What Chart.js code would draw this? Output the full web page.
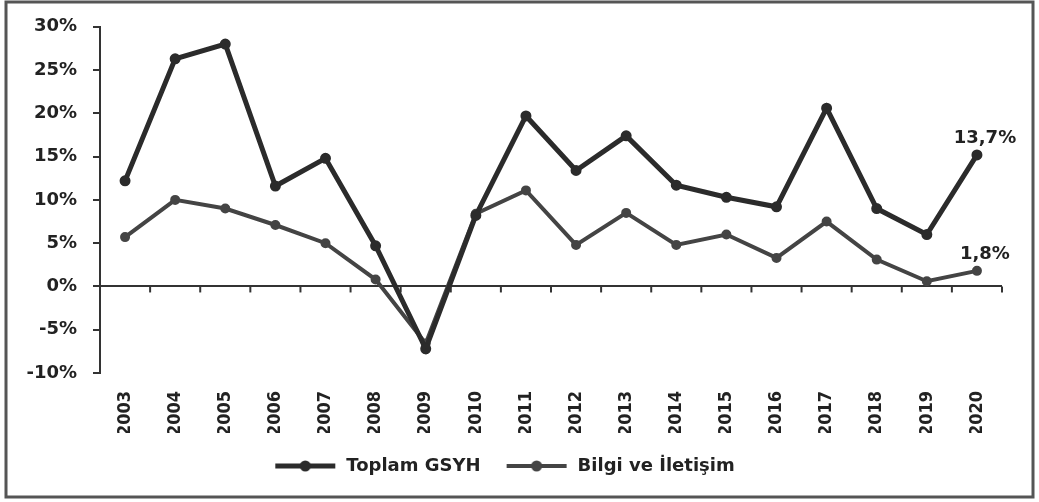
<!DOCTYPE html>
<html>
<head>
<meta charset="utf-8">
<style>
  html, body { margin: 0; padding: 0; background: #fff; }
  #wrap { width: 1039px; height: 502px; position: relative; }
</style>
<script src="https://cdn.jsdelivr.net/npm/chart.js@4"></script>
</head>
<body>
<div id="wrap"><canvas id="chart" width="1039" height="502"></canvas></div>
<script>
const years = ["2003", "2004", "2005", "2006", "2007", "2008", "2009", "2010", "2011",
  "2012", "2013", "2014", "2015", "2016", "2017", "2018", "2019", "2020"];
// dark line (legend: Toplam GSYH)
const toplamGsyh = [12.2, 26.3, 28.0, 11.6, 14.8, 4.7, -7.2, 8.2, 19.7,
  13.4, 17.4, 11.7, 10.3, 9.2, 20.6, 9.0, 6.0, 15.2];
// grey line (legend: Bilgi ve İletişim)
const bilgiIletisim = [5.7, 10.0, 9.0, 7.1, 5.0, 0.8, -6.6, 8.4, 11.1,
  4.8, 8.5, 4.8, 6.0, 3.3, 7.5, 3.1, 0.6, 1.8];
const endLabels = ["13,7%", "1,8%"];
const yTicks = { min: -10, max: 30, step: 5 };

const FONT = "'DejaVu Sans', 'Open Sans', sans-serif";

// legend sample: line with a dot in the middle
function legendIcon(color, w) {
  const c = document.createElement("canvas");
  c.width = 64; c.height = 14;
  const g = c.getContext("2d");
  g.strokeStyle = color; g.lineWidth = w;
  g.beginPath(); g.moveTo(2, 7); g.lineTo(62, 7); g.stroke();
  g.fillStyle = color;
  g.beginPath(); g.arc(32, 7, 5.5, 0, Math.PI * 2); g.fill();
  return c;
}

const framePlugin = {
  id: "frame",
  beforeDraw(chart) {
    const g = chart.ctx;
    g.save();
    g.fillStyle = "#fff";
    g.fillRect(0, 0, chart.width, chart.height);
    g.strokeStyle = "#555";
    g.lineWidth = 3;
    g.strokeRect(6, 2, 1027, 495);
    g.restore();
  }
};

const zeroTicksPlugin = {
  id: "zeroTicks",
  afterDatasetsDraw(chart) {
    const x = chart.scales.x, y = chart.scales.y;
    const y0 = y.getPixelForValue(0);
    const step = x.getPixelForValue(1) - x.getPixelForValue(0);
    const g = chart.ctx;
    g.save();
    g.strokeStyle = "#333";
    g.lineWidth = 2;
    for (let i = 0; i < years.length; i++) {
      const px = x.getPixelForValue(i) + step / 2;
      g.beginPath(); g.moveTo(px, y0); g.lineTo(px, y0 + 6); g.stroke();
    }
    // end value labels
    g.fillStyle = "#222";
    g.font = "bold 18px " + FONT;
    g.textAlign = "center";
    g.textBaseline = "bottom";
    chart.data.datasets.forEach((ds, i) => {
      const pt = chart.getDatasetMeta(i).data[years.length - 1];
      g.fillText(endLabels[i], pt.x + 8, pt.y - 8);
    });
    g.restore();
  }
};

new Chart(document.getElementById("chart"), {
  type: "line",
  data: {
    labels: years,
    datasets: [
      {
        label: "Toplam GSYH",
        data: toplamGsyh,
        borderColor: "#2b2b2b",
        backgroundColor: "#2b2b2b",
        borderWidth: 5,
        pointRadius: 3,
        tension: 0
      },
      {
        label: "Bilgi ve İletişim",
        data: bilgiIletisim,
        borderColor: "#444",
        backgroundColor: "#444",
        borderWidth: 4,
        pointRadius: 3,
        tension: 0
      }
    ]
  },
  options: {
    responsive: false,
    animation: false,
    layout: { padding: { left: 6, right: 37, top: 25, bottom: 17 } },
    plugins: {
      tooltip: { enabled: false },
      legend: {
        position: "bottom",
        labels: {
          usePointStyle: true,
          pointStyleWidth: 64,
          color: "#222",
          font: { family: FONT, size: 18, weight: "bold" },
          padding: 24,
          generateLabels(chart) {
            return chart.data.datasets.map((ds, i) => ({
              text: ds.label,
              pointStyle: legendIcon(ds.borderColor, i === 0 ? 5 : 4),
              fontColor: "#222",
              datasetIndex: i,
              hidden: false,
              lineWidth: 0,
              strokeStyle: "transparent",
              fillStyle: "transparent"
            }));
          }
        }
      }
    },
    scales: {
      x: {
        offset: true,
        afterFit: s => { s.height = 60; },
        grid: { display: false },
        border: { display: false },
        ticks: {
          minRotation: 90,
          maxRotation: 90,
          padding: 10,
          color: "#222",
          font: { family: "'DejaVu Sans Condensed', 'DejaVu Sans', sans-serif", size: 18, weight: "bold" }
        }
      },
      y: {
        min: yTicks.min,
        max: yTicks.max,
        afterFit: s => { s.width = 94; },
        border: { display: true, color: "#333", width: 2 },
        grid: {
          drawOnChartArea: true,
          color: ctx => (ctx.tick && ctx.tick.value === 0 ? "#333" : "transparent"),
          lineWidth: 2,
          tickColor: "#333",
          tickLength: 7
        },
        ticks: {
          stepSize: yTicks.step,
          padding: 16,
          color: "#222",
          font: { family: FONT, size: 18, weight: "bold" },
          callback: v => v + "%"
        }
      }
    }
  },
  plugins: [framePlugin, zeroTicksPlugin]
});
</script>
</body>
</html>
